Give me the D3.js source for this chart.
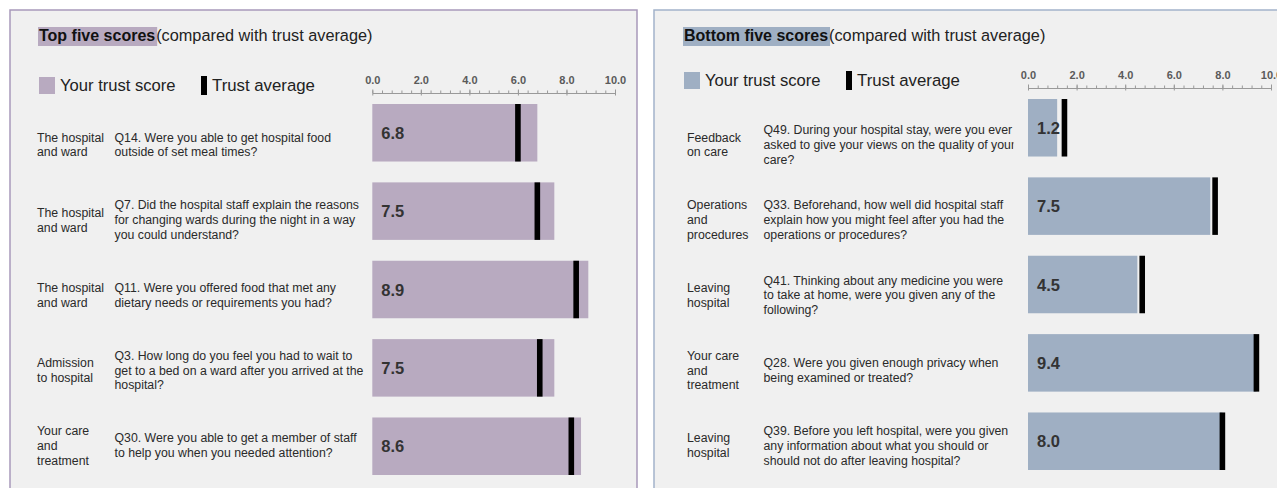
<!DOCTYPE html>
<html>
<head>
<meta charset="utf-8">
<script src="https://cdn.jsdelivr.net/npm/d3@7"></script>
<style>
  html, body { margin: 0; padding: 0; background: #ffffff; }
  svg { display: block; font-family: "Liberation Sans", Arial, sans-serif; }
</style>
</head>
<body>
<svg id="chart" width="1277" height="488"></svg>
<script>
// ---------- data ----------
const leftCategories = [
  "The hospital\nand ward",
  "The hospital\nand ward",
  "The hospital\nand ward",
  "Admission\nto hospital",
  "Your care\nand\ntreatment"
];
const leftQuestions = [
  "Q14. Were you able to get hospital food\noutside of set meal times?",
  "Q7. Did the hospital staff explain the reasons\nfor changing wards during the night in a way\nyou could understand?",
  "Q11. Were you offered food that met any\ndietary needs or requirements you had?",
  "Q3. How long do you feel you had to wait to\nget to a bed on a ward after you arrived at the\nhospital?",
  "Q30. Were you able to get a member of staff\nto help you when you needed attention?"
];
const leftScores   = [6.8, 7.5, 8.9, 7.5, 8.6];
const leftAverages = [6.0, 6.8, 8.4, 6.9, 8.2];

const rightCategories = [
  "Feedback\non care",
  "Operations\nand\nprocedures",
  "Leaving\nhospital",
  "Your care\nand\ntreatment",
  "Leaving\nhospital"
];
const rightQuestions = [
  "Q49. During your hospital stay, were you ever\nasked to give your views on the quality of your\ncare?",
  "Q33. Beforehand, how well did hospital staff\nexplain how you might feel after you had the\noperations or procedures?",
  "Q41. Thinking about any medicine you were\nto take at home, were you given any of the\nfollowing?",
  "Q28. Were you given enough privacy when\nbeing examined or treated?",
  "Q39. Before you left hospital, were you given\nany information about what you should or\nshould not do after leaving hospital?"
];
const rightScores   = [1.2, 7.5, 4.5, 9.4, 8.0];
const rightAverages = [1.5, 7.7, 4.7, 9.4, 8.0];

const majorTicks = [0, 2, 4, 6, 8, 10];
const tickLabels = ["0.0", "2.0", "4.0", "6.0", "8.0", "10.0"];
const minorTicks = d3.range(0, 10.001, 0.4);
const legendLabels = ["Your trust score", "Trust average"];

// ---------- drawing ----------
const svg = d3.select("#chart");
const defs = svg.append("defs");

function drawPanel(cfg) {
  const g = svg.append("g");
  // panel background
  g.append("rect")
    .attr("x", cfg.px0).attr("y", 10)
    .attr("width", cfg.px1 - cfg.px0).attr("height", 520)
    .attr("fill", "#f0f0f0")
    .attr("stroke", cfg.border).attr("stroke-width", 1.5);

  // title
  const titleG = g.append("g");
  const tBold = titleG.append("text")
    .attr("x", cfg.titleX).attr("y", 41)
    .attr("font-size", 16).attr("font-weight", "bold").attr("fill", "#111")
    .text(cfg.titleBold);
  const bw = tBold.node().getComputedTextLength();
  titleG.insert("rect", "text")
    .attr("x", cfg.titleX - 1).attr("y", 27)
    .attr("width", bw + 3).attr("height", 19)
    .attr("fill", cfg.fill);
  titleG.append("text")
    .attr("x", cfg.titleX + bw + 1).attr("y", 41)
    .attr("font-size", 16.3).attr("fill", "#222")
    .text(cfg.titleRest);

  const dy = cfg.dy;
  // legend
  g.append("rect")
    .attr("x", cfg.titleX).attr("y", 77 + dy)
    .attr("width", 16).attr("height", 17)
    .attr("fill", cfg.fill);
  g.append("text")
    .attr("x", cfg.titleX + 21).attr("y", 91 + dy)
    .attr("font-size", 16.6).attr("fill", "#222")
    .text(legendLabels[0]);
  g.append("rect")
    .attr("x", cfg.titleX + 162).attr("y", 76 + dy)
    .attr("width", 6).attr("height", 19)
    .attr("fill", "#000");
  g.append("text")
    .attr("x", cfg.titleX + 173).attr("y", 91 + dy)
    .attr("font-size", 16.8).attr("fill", "#222")
    .text(legendLabels[1]);

  // scales
  const x = d3.scaleLinear().domain([0, 10]).range(cfg.xRange);
  const ids = d3.range(cfg.scores.length);
  const y = d3.scaleBand().domain(ids)
    .range([104 + dy, 475 + dy]).paddingInner(0.266).paddingOuter(0);
  const yText = d3.scalePoint().domain(ids).range([144.5, 445.3]);

  // axis: minor ticks
  const axisY = 93 + dy;
  const minorAxis = g.append("g").attr("transform", `translate(0,${axisY})`)
    .call(d3.axisTop(x).tickValues(minorTicks).tickSize(2.5).tickSizeOuter(0).tickFormat(""));
  minorAxis.select(".domain").attr("stroke", "#999");
  minorAxis.selectAll(".tick line").attr("stroke", "#999");
  // axis: major ticks
  const majorAxis = g.append("g").attr("transform", `translate(0,${axisY})`)
    .call(d3.axisTop(x).tickValues(majorTicks).tickSize(3.5).tickSizeOuter(0)
      .tickFormat((d, i) => tickLabels[i]));
  majorAxis.select(".domain").remove();
  majorAxis.selectAll(".tick line").attr("stroke", "#999").attr("y1", 2.5).attr("y2", -3.5);
  majorAxis.selectAll(".tick text")
    .attr("y", -9).attr("dy", 0)
    .attr("font-family", "'Liberation Sans', Arial, sans-serif")
    .attr("font-size", 11).attr("font-weight", "bold").attr("fill", "#5a5a5a");

  // bars
  g.selectAll(".bar").data(ids).enter().append("rect")
    .attr("x", x(0)).attr("y", i => y(i))
    .attr("width", i => x(cfg.scores[i]) - x(0))
    .attr("height", y.bandwidth())
    .attr("fill", cfg.fill);
  // averages
  g.selectAll(".avg").data(ids).enter().append("rect")
    .attr("x", i => x(cfg.averages[i]) - 2.8).attr("y", i => y(i))
    .attr("width", 5.6).attr("height", y.bandwidth())
    .attr("fill", "#000");
  // value labels
  g.selectAll(".val").data(ids).enter().append("text")
    .attr("x", x(0) + 9).attr("y", i => y(i) + y.bandwidth() / 2 + 6)
    .attr("font-size", 16.5).attr("font-weight", "bold").attr("fill", "#333")
    .text(i => d3.format(".1f")(cfg.scores[i]));

  // text columns
  const lh = 14.8;
  function multiline(sel, xPos, arr) {
    sel.selectAll(null).data(ids).enter().append("text")
      .attr("font-size", 12.3).attr("fill", "#2a2a2a")
      .each(function (i) {
        const lines = arr[i].split("\n");
        const n = lines.length;
        const t = d3.select(this);
        lines.forEach((ln, k) => {
          t.append("tspan")
            .attr("x", xPos)
            .attr("y", yText(i) + (k - (n - 1) / 2) * lh + 4.4)
            .text(ln);
        });
      });
  }
  multiline(g, cfg.catX, cfg.categories);
  const clipId = "clip" + cfg.key;
  defs.append("clipPath").attr("id", clipId).append("rect")
    .attr("x", cfg.qX - 2).attr("y", 95).attr("width", cfg.qClip).attr("height", 400);
  const qg = g.append("g").attr("clip-path", `url(#${clipId})`);
  multiline(qg, cfg.qX, cfg.questions);
}

drawPanel({
  key: "L", px0: 10, px1: 637, border: "#a899ba", fill: "#b8aac0",
  titleX: 39, titleBold: "Top five scores", titleRest: "(compared with trust average)",
  dy: 0, xRange: [372.3, 615],
  catX: 37, qX: 114.5, qClip: 255,
  categories: leftCategories, questions: leftQuestions,
  scores: leftScores, averages: leftAverages
});
drawPanel({
  key: "R", px0: 654, px1: 1300, border: "#a3b3ca", fill: "#9fafc3",
  titleX: 684, titleBold: "Bottom five scores", titleRest: "(compared with trust average)",
  dy: -5, xRange: [1028, 1271],
  catX: 687, qX: 763.5, qClip: 252,
  categories: rightCategories, questions: rightQuestions,
  scores: rightScores, averages: rightAverages
});
</script>
</body>
</html>
